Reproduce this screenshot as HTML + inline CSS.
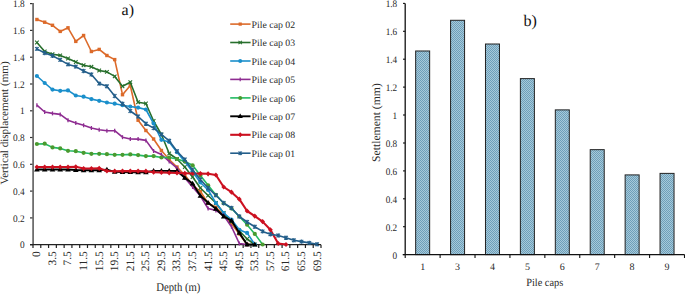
<!DOCTYPE html>
<html><head><meta charset="utf-8"><style>
html,body{margin:0;padding:0;background:#fff;}
body{width:685px;height:294px;overflow:hidden;}
svg{display:block;}
text{font-family:"Liberation Serif",serif;fill:#2a2a2a;text-rendering:geometricPrecision;}
.t{font-size:10px;}
.ti{font-size:10.8px;}
.ab{font-size:16px;}
</style></head><body>
<svg width="685" height="294" viewBox="0 0 685 294">
<path d="M30 244.7H33" stroke="#333" stroke-width="1.2"/>
<text transform="translate(24.60 248.40) scale(0.93 1.0)" text-anchor="end" style="font-size:10px">0</text>
<path d="M30 217.9H33" stroke="#333" stroke-width="1.2"/>
<text transform="translate(24.60 221.61) scale(0.93 1.0)" text-anchor="end" style="font-size:10px">0.2</text>
<path d="M30 191.1H33" stroke="#333" stroke-width="1.2"/>
<text transform="translate(24.60 194.82) scale(0.93 1.0)" text-anchor="end" style="font-size:10px">0.4</text>
<path d="M30 164.3H33" stroke="#333" stroke-width="1.2"/>
<text transform="translate(24.60 168.03) scale(0.93 1.0)" text-anchor="end" style="font-size:10px">0.6</text>
<path d="M30 137.5H33" stroke="#333" stroke-width="1.2"/>
<text transform="translate(24.60 141.24) scale(0.93 1.0)" text-anchor="end" style="font-size:10px">0.8</text>
<path d="M30 110.8H33" stroke="#333" stroke-width="1.2"/>
<text transform="translate(24.60 114.46) scale(0.93 1.0)" text-anchor="end" style="font-size:10px">1</text>
<path d="M30 84.0H33" stroke="#333" stroke-width="1.2"/>
<text transform="translate(24.60 87.67) scale(0.93 1.0)" text-anchor="end" style="font-size:10px">1.2</text>
<path d="M30 57.2H33" stroke="#333" stroke-width="1.2"/>
<text transform="translate(24.60 60.88) scale(0.93 1.0)" text-anchor="end" style="font-size:10px">1.4</text>
<path d="M30 30.4H33" stroke="#333" stroke-width="1.2"/>
<text transform="translate(24.60 34.09) scale(0.93 1.0)" text-anchor="end" style="font-size:10px">1.6</text>
<path d="M30 3.6H33" stroke="#333" stroke-width="1.2"/>
<text transform="translate(24.60 7.30) scale(0.93 1.0)" text-anchor="end" style="font-size:10px">1.8</text>
<path d="M33.00 244.7V248.1M40.78 244.7V248.1M48.57 244.7V248.1M56.35 244.7V248.1M64.14 244.7V248.1M71.92 244.7V248.1M79.70 244.7V248.1M87.49 244.7V248.1M95.27 244.7V248.1M103.05 244.7V248.1M110.84 244.7V248.1M118.62 244.7V248.1M126.41 244.7V248.1M134.19 244.7V248.1M141.97 244.7V248.1M149.76 244.7V248.1M157.54 244.7V248.1M165.32 244.7V248.1M173.11 244.7V248.1M180.89 244.7V248.1M188.68 244.7V248.1M196.46 244.7V248.1M204.24 244.7V248.1M212.03 244.7V248.1M219.81 244.7V248.1M227.59 244.7V248.1M235.38 244.7V248.1M243.16 244.7V248.1M250.95 244.7V248.1M258.73 244.7V248.1M266.51 244.7V248.1M274.30 244.7V248.1M282.08 244.7V248.1M289.86 244.7V248.1M297.65 244.7V248.1M305.43 244.7V248.1M313.22 244.7V248.1M321.00 244.7V248.1" stroke="#222" stroke-width="1.2"/>
<text transform="translate(40.3 251.3) rotate(-90)" text-anchor="end" class="t" style="font-size:11.4px">0</text>
<text transform="translate(55.9 251.3) rotate(-90)" text-anchor="end" class="t" style="font-size:11.4px">3.5</text>
<text transform="translate(71.4 251.3) rotate(-90)" text-anchor="end" class="t" style="font-size:11.4px">7.5</text>
<text transform="translate(87.0 251.3) rotate(-90)" text-anchor="end" class="t" style="font-size:11.4px">11.5</text>
<text transform="translate(102.6 251.3) rotate(-90)" text-anchor="end" class="t" style="font-size:11.4px">15.5</text>
<text transform="translate(118.1 251.3) rotate(-90)" text-anchor="end" class="t" style="font-size:11.4px">19.5</text>
<text transform="translate(133.7 251.3) rotate(-90)" text-anchor="end" class="t" style="font-size:11.4px">21.5</text>
<text transform="translate(149.3 251.3) rotate(-90)" text-anchor="end" class="t" style="font-size:11.4px">25.5</text>
<text transform="translate(164.8 251.3) rotate(-90)" text-anchor="end" class="t" style="font-size:11.4px">29.5</text>
<text transform="translate(180.4 251.3) rotate(-90)" text-anchor="end" class="t" style="font-size:11.4px">33.5</text>
<text transform="translate(196.0 251.3) rotate(-90)" text-anchor="end" class="t" style="font-size:11.4px">37.5</text>
<text transform="translate(211.5 251.3) rotate(-90)" text-anchor="end" class="t" style="font-size:11.4px">41.5</text>
<text transform="translate(227.1 251.3) rotate(-90)" text-anchor="end" class="t" style="font-size:11.4px">45.5</text>
<text transform="translate(242.7 251.3) rotate(-90)" text-anchor="end" class="t" style="font-size:11.4px">49.5</text>
<text transform="translate(258.2 251.3) rotate(-90)" text-anchor="end" class="t" style="font-size:11.4px">53.5</text>
<text transform="translate(273.8 251.3) rotate(-90)" text-anchor="end" class="t" style="font-size:11.4px">57.5</text>
<text transform="translate(289.4 251.3) rotate(-90)" text-anchor="end" class="t" style="font-size:11.4px">61.5</text>
<text transform="translate(304.9 251.3) rotate(-90)" text-anchor="end" class="t" style="font-size:11.4px">65.5</text>
<text transform="translate(320.5 251.3) rotate(-90)" text-anchor="end" class="t" style="font-size:11.4px">69.5</text>
<path d="M33.1 3.0V244.7" stroke="#6e6e6e" stroke-width="1.8"/>
<path d="M30 244.7H321.0" stroke="#222" stroke-width="1.2"/>
<path d="M36.9 19.5L44.7 22.2L52.5 25.3L60.2 31.4L68.0 27.8L75.8 41.4L83.6 35.5L91.4 51.5L99.2 49.4L106.9 55.5L114.7 59.6L122.5 94.7L130.3 85.5L138.1 120.2L145.9 130.5L153.6 139.0L161.4 150.5L169.2 159.5L177.0 167.0L184.8 175.0L192.6 185.0L200.4 191.5L208.1 203.3L215.9 207.3L223.7 214.5L231.5 223.7L239.3 233.9L247.1 244.5" stroke="#DC6A2A" stroke-width="1.6" fill="none" stroke-linejoin="round"/>
<rect x="35.2" y="17.8" width="3.4" height="3.4" fill="#DC6A2A"/><rect x="43.0" y="20.5" width="3.4" height="3.4" fill="#DC6A2A"/><rect x="50.8" y="23.6" width="3.4" height="3.4" fill="#DC6A2A"/><rect x="58.5" y="29.7" width="3.4" height="3.4" fill="#DC6A2A"/><rect x="66.3" y="26.1" width="3.4" height="3.4" fill="#DC6A2A"/><rect x="74.1" y="39.7" width="3.4" height="3.4" fill="#DC6A2A"/><rect x="81.9" y="33.8" width="3.4" height="3.4" fill="#DC6A2A"/><rect x="89.7" y="49.8" width="3.4" height="3.4" fill="#DC6A2A"/><rect x="97.5" y="47.7" width="3.4" height="3.4" fill="#DC6A2A"/><rect x="105.2" y="53.8" width="3.4" height="3.4" fill="#DC6A2A"/><rect x="113.0" y="57.9" width="3.4" height="3.4" fill="#DC6A2A"/><rect x="120.8" y="93.0" width="3.4" height="3.4" fill="#DC6A2A"/><rect x="128.6" y="83.8" width="3.4" height="3.4" fill="#DC6A2A"/><rect x="136.4" y="118.5" width="3.4" height="3.4" fill="#DC6A2A"/><rect x="144.2" y="128.8" width="3.4" height="3.4" fill="#DC6A2A"/><rect x="151.9" y="137.3" width="3.4" height="3.4" fill="#DC6A2A"/><rect x="159.7" y="148.8" width="3.4" height="3.4" fill="#DC6A2A"/><rect x="167.5" y="157.8" width="3.4" height="3.4" fill="#DC6A2A"/><rect x="175.3" y="165.3" width="3.4" height="3.4" fill="#DC6A2A"/><rect x="183.1" y="173.3" width="3.4" height="3.4" fill="#DC6A2A"/><rect x="190.9" y="183.3" width="3.4" height="3.4" fill="#DC6A2A"/><rect x="198.7" y="189.8" width="3.4" height="3.4" fill="#DC6A2A"/><rect x="206.4" y="201.6" width="3.4" height="3.4" fill="#DC6A2A"/><rect x="214.2" y="205.6" width="3.4" height="3.4" fill="#DC6A2A"/><rect x="222.0" y="212.8" width="3.4" height="3.4" fill="#DC6A2A"/><rect x="229.8" y="222.0" width="3.4" height="3.4" fill="#DC6A2A"/><rect x="237.6" y="232.2" width="3.4" height="3.4" fill="#DC6A2A"/><rect x="245.4" y="242.8" width="3.4" height="3.4" fill="#DC6A2A"/>
<path d="M36.9 42.5L44.7 51.5L52.5 54.2L60.2 55.4L68.0 58.5L75.8 62.0L83.6 65.2L91.4 66.8L99.2 70.5L106.9 71.9L114.7 76.4L122.5 86.3L130.3 82.2L138.1 102.2L145.9 103.5L153.6 121.0L161.4 134.5L169.2 153.5L177.0 159.0L184.8 167.0L192.6 177.0L200.4 188.0L208.1 195.5L215.9 203.0L223.7 213.0L231.5 221.6L239.3 230.8L247.1 239.0L254.8 244.5" stroke="#276F2C" stroke-width="1.6" fill="none" stroke-linejoin="round"/>
<path d="M35.1 40.7L38.7 44.3M35.1 44.3L38.7 40.7" stroke="#276F2C" stroke-width="1.1" fill="none"/><path d="M42.9 49.7L46.5 53.3M42.9 53.3L46.5 49.7" stroke="#276F2C" stroke-width="1.1" fill="none"/><path d="M50.7 52.4L54.3 56.0M50.7 56.0L54.3 52.4" stroke="#276F2C" stroke-width="1.1" fill="none"/><path d="M58.4 53.6L62.0 57.2M58.4 57.2L62.0 53.6" stroke="#276F2C" stroke-width="1.1" fill="none"/><path d="M66.2 56.7L69.8 60.3M66.2 60.3L69.8 56.7" stroke="#276F2C" stroke-width="1.1" fill="none"/><path d="M74.0 60.2L77.6 63.8M74.0 63.8L77.6 60.2" stroke="#276F2C" stroke-width="1.1" fill="none"/><path d="M81.8 63.4L85.4 67.0M81.8 67.0L85.4 63.4" stroke="#276F2C" stroke-width="1.1" fill="none"/><path d="M89.6 65.0L93.2 68.6M89.6 68.6L93.2 65.0" stroke="#276F2C" stroke-width="1.1" fill="none"/><path d="M97.4 68.7L101.0 72.3M97.4 72.3L101.0 68.7" stroke="#276F2C" stroke-width="1.1" fill="none"/><path d="M105.1 70.1L108.7 73.7M105.1 73.7L108.7 70.1" stroke="#276F2C" stroke-width="1.1" fill="none"/><path d="M112.9 74.6L116.5 78.2M112.9 78.2L116.5 74.6" stroke="#276F2C" stroke-width="1.1" fill="none"/><path d="M120.7 84.5L124.3 88.1M120.7 88.1L124.3 84.5" stroke="#276F2C" stroke-width="1.1" fill="none"/><path d="M128.5 80.4L132.1 84.0M128.5 84.0L132.1 80.4" stroke="#276F2C" stroke-width="1.1" fill="none"/><path d="M136.3 100.4L139.9 104.0M136.3 104.0L139.9 100.4" stroke="#276F2C" stroke-width="1.1" fill="none"/><path d="M144.1 101.7L147.7 105.3M144.1 105.3L147.7 101.7" stroke="#276F2C" stroke-width="1.1" fill="none"/><path d="M151.8 119.2L155.4 122.8M151.8 122.8L155.4 119.2" stroke="#276F2C" stroke-width="1.1" fill="none"/><path d="M159.6 132.7L163.2 136.3M159.6 136.3L163.2 132.7" stroke="#276F2C" stroke-width="1.1" fill="none"/><path d="M167.4 151.7L171.0 155.3M167.4 155.3L171.0 151.7" stroke="#276F2C" stroke-width="1.1" fill="none"/><path d="M175.2 157.2L178.8 160.8M175.2 160.8L178.8 157.2" stroke="#276F2C" stroke-width="1.1" fill="none"/><path d="M183.0 165.2L186.6 168.8M183.0 168.8L186.6 165.2" stroke="#276F2C" stroke-width="1.1" fill="none"/><path d="M190.8 175.2L194.4 178.8M190.8 178.8L194.4 175.2" stroke="#276F2C" stroke-width="1.1" fill="none"/><path d="M198.6 186.2L202.2 189.8M198.6 189.8L202.2 186.2" stroke="#276F2C" stroke-width="1.1" fill="none"/><path d="M206.3 193.7L209.9 197.3M206.3 197.3L209.9 193.7" stroke="#276F2C" stroke-width="1.1" fill="none"/><path d="M214.1 201.2L217.7 204.8M214.1 204.8L217.7 201.2" stroke="#276F2C" stroke-width="1.1" fill="none"/><path d="M221.9 211.2L225.5 214.8M221.9 214.8L225.5 211.2" stroke="#276F2C" stroke-width="1.1" fill="none"/><path d="M229.7 219.8L233.3 223.4M229.7 223.4L233.3 219.8" stroke="#276F2C" stroke-width="1.1" fill="none"/><path d="M237.5 229.0L241.1 232.6M237.5 232.6L241.1 229.0" stroke="#276F2C" stroke-width="1.1" fill="none"/><path d="M245.3 237.2L248.9 240.8M245.3 240.8L248.9 237.2" stroke="#276F2C" stroke-width="1.1" fill="none"/><path d="M253.0 242.7L256.6 246.3M253.0 246.3L256.6 242.7" stroke="#276F2C" stroke-width="1.1" fill="none"/>
<path d="M36.9 76.0L44.7 83.0L52.5 89.6L60.2 90.8L68.0 90.4L75.8 95.5L83.6 96.7L91.4 99.1L99.2 100.8L106.9 102.5L114.7 103.7L122.5 105.2L130.3 106.5L138.1 107.6L145.9 109.5L153.6 123.5L161.4 139.8L169.2 142.0L177.0 152.2L184.8 161.6L192.6 171.8L200.4 182.5L208.1 190.0L215.9 203.0L223.7 213.0L231.5 219.5L239.3 229.8L247.1 232.9L254.8 244.5" stroke="#1A8FCB" stroke-width="1.6" fill="none" stroke-linejoin="round"/>
<circle cx="36.9" cy="76.0" r="2.1" fill="#1A8FCB"/><circle cx="44.7" cy="83.0" r="2.1" fill="#1A8FCB"/><circle cx="52.5" cy="89.6" r="2.1" fill="#1A8FCB"/><circle cx="60.2" cy="90.8" r="2.1" fill="#1A8FCB"/><circle cx="68.0" cy="90.4" r="2.1" fill="#1A8FCB"/><circle cx="75.8" cy="95.5" r="2.1" fill="#1A8FCB"/><circle cx="83.6" cy="96.7" r="2.1" fill="#1A8FCB"/><circle cx="91.4" cy="99.1" r="2.1" fill="#1A8FCB"/><circle cx="99.2" cy="100.8" r="2.1" fill="#1A8FCB"/><circle cx="106.9" cy="102.5" r="2.1" fill="#1A8FCB"/><circle cx="114.7" cy="103.7" r="2.1" fill="#1A8FCB"/><circle cx="122.5" cy="105.2" r="2.1" fill="#1A8FCB"/><circle cx="130.3" cy="106.5" r="2.1" fill="#1A8FCB"/><circle cx="138.1" cy="107.6" r="2.1" fill="#1A8FCB"/><circle cx="145.9" cy="109.5" r="2.1" fill="#1A8FCB"/><circle cx="153.6" cy="123.5" r="2.1" fill="#1A8FCB"/><circle cx="161.4" cy="139.8" r="2.1" fill="#1A8FCB"/><circle cx="169.2" cy="142.0" r="2.1" fill="#1A8FCB"/><circle cx="177.0" cy="152.2" r="2.1" fill="#1A8FCB"/><circle cx="184.8" cy="161.6" r="2.1" fill="#1A8FCB"/><circle cx="192.6" cy="171.8" r="2.1" fill="#1A8FCB"/><circle cx="200.4" cy="182.5" r="2.1" fill="#1A8FCB"/><circle cx="208.1" cy="190.0" r="2.1" fill="#1A8FCB"/><circle cx="215.9" cy="203.0" r="2.1" fill="#1A8FCB"/><circle cx="223.7" cy="213.0" r="2.1" fill="#1A8FCB"/><circle cx="231.5" cy="219.5" r="2.1" fill="#1A8FCB"/><circle cx="239.3" cy="229.8" r="2.1" fill="#1A8FCB"/><circle cx="247.1" cy="232.9" r="2.1" fill="#1A8FCB"/><circle cx="254.8" cy="244.5" r="2.1" fill="#1A8FCB"/>
<path d="M36.9 105.2L44.7 112.0L52.5 113.4L60.2 114.4L68.0 120.2L75.8 122.9L83.6 125.3L91.4 128.0L99.2 129.7L106.9 130.7L114.7 130.7L122.5 137.2L130.3 139.0L138.1 139.1L145.9 140.4L153.6 151.0L161.4 154.6L169.2 161.4L177.0 168.2L184.8 178.0L192.6 187.0L200.4 196.0L208.1 208.5L215.9 210.4L223.7 215.5L231.5 226.7L239.3 243.5L247.1 244.5" stroke="#8E2C91" stroke-width="1.6" fill="none" stroke-linejoin="round"/>
<path d="M36.9 103.2V107.2" stroke="#8E2C91" stroke-width="1.3" fill="none"/><path d="M44.7 110.0V114.0" stroke="#8E2C91" stroke-width="1.3" fill="none"/><path d="M52.5 111.4V115.4" stroke="#8E2C91" stroke-width="1.3" fill="none"/><path d="M60.2 112.4V116.4" stroke="#8E2C91" stroke-width="1.3" fill="none"/><path d="M68.0 118.2V122.2" stroke="#8E2C91" stroke-width="1.3" fill="none"/><path d="M75.8 120.9V124.9" stroke="#8E2C91" stroke-width="1.3" fill="none"/><path d="M83.6 123.3V127.3" stroke="#8E2C91" stroke-width="1.3" fill="none"/><path d="M91.4 126.0V130.0" stroke="#8E2C91" stroke-width="1.3" fill="none"/><path d="M99.2 127.7V131.7" stroke="#8E2C91" stroke-width="1.3" fill="none"/><path d="M106.9 128.7V132.7" stroke="#8E2C91" stroke-width="1.3" fill="none"/><path d="M114.7 128.7V132.7" stroke="#8E2C91" stroke-width="1.3" fill="none"/><path d="M122.5 135.2V139.2" stroke="#8E2C91" stroke-width="1.3" fill="none"/><path d="M130.3 137.0V141.0" stroke="#8E2C91" stroke-width="1.3" fill="none"/><path d="M138.1 137.1V141.1" stroke="#8E2C91" stroke-width="1.3" fill="none"/><path d="M145.9 138.4V142.4" stroke="#8E2C91" stroke-width="1.3" fill="none"/><path d="M153.6 149.0V153.0" stroke="#8E2C91" stroke-width="1.3" fill="none"/><path d="M161.4 152.6V156.6" stroke="#8E2C91" stroke-width="1.3" fill="none"/><path d="M169.2 159.4V163.4" stroke="#8E2C91" stroke-width="1.3" fill="none"/><path d="M177.0 166.2V170.2" stroke="#8E2C91" stroke-width="1.3" fill="none"/><path d="M184.8 176.0V180.0" stroke="#8E2C91" stroke-width="1.3" fill="none"/><path d="M192.6 185.0V189.0" stroke="#8E2C91" stroke-width="1.3" fill="none"/><path d="M200.4 194.0V198.0" stroke="#8E2C91" stroke-width="1.3" fill="none"/><path d="M208.1 206.5V210.5" stroke="#8E2C91" stroke-width="1.3" fill="none"/><path d="M215.9 208.4V212.4" stroke="#8E2C91" stroke-width="1.3" fill="none"/><path d="M223.7 213.5V217.5" stroke="#8E2C91" stroke-width="1.3" fill="none"/><path d="M231.5 224.7V228.7" stroke="#8E2C91" stroke-width="1.3" fill="none"/><path d="M239.3 241.5V245.5" stroke="#8E2C91" stroke-width="1.3" fill="none"/><path d="M247.1 242.5V246.5" stroke="#8E2C91" stroke-width="1.3" fill="none"/>
<path d="M36.9 144.0L44.7 143.7L52.5 147.4L60.2 148.4L68.0 150.8L75.8 151.2L83.6 152.8L91.4 153.8L99.2 153.8L106.9 154.2L114.7 154.8L122.5 154.8L130.3 154.4L138.1 155.1L145.9 156.1L153.6 156.1L161.4 157.5L169.2 157.5L177.0 159.0L184.8 161.4L192.6 165.3L200.4 175.5L208.1 185.3L215.9 194.9L223.7 203.3L231.5 208.4L239.3 216.5L247.1 224.7L254.8 233.9L262.6 244.5" stroke="#22BA62" stroke-width="1.6" fill="none" stroke-linejoin="round"/>
<circle cx="36.9" cy="144.0" r="2.1" fill="#4A9A2E"/><circle cx="44.7" cy="143.7" r="2.1" fill="#4A9A2E"/><circle cx="52.5" cy="147.4" r="2.1" fill="#4A9A2E"/><circle cx="60.2" cy="148.4" r="2.1" fill="#4A9A2E"/><circle cx="68.0" cy="150.8" r="2.1" fill="#4A9A2E"/><circle cx="75.8" cy="151.2" r="2.1" fill="#4A9A2E"/><circle cx="83.6" cy="152.8" r="2.1" fill="#4A9A2E"/><circle cx="91.4" cy="153.8" r="2.1" fill="#4A9A2E"/><circle cx="99.2" cy="153.8" r="2.1" fill="#4A9A2E"/><circle cx="106.9" cy="154.2" r="2.1" fill="#4A9A2E"/><circle cx="114.7" cy="154.8" r="2.1" fill="#4A9A2E"/><circle cx="122.5" cy="154.8" r="2.1" fill="#4A9A2E"/><circle cx="130.3" cy="154.4" r="2.1" fill="#4A9A2E"/><circle cx="138.1" cy="155.1" r="2.1" fill="#4A9A2E"/><circle cx="145.9" cy="156.1" r="2.1" fill="#4A9A2E"/><circle cx="153.6" cy="156.1" r="2.1" fill="#4A9A2E"/><circle cx="161.4" cy="157.5" r="2.1" fill="#4A9A2E"/><circle cx="169.2" cy="157.5" r="2.1" fill="#4A9A2E"/><circle cx="177.0" cy="159.0" r="2.1" fill="#4A9A2E"/><circle cx="184.8" cy="161.4" r="2.1" fill="#4A9A2E"/><circle cx="192.6" cy="165.3" r="2.1" fill="#4A9A2E"/><circle cx="200.4" cy="175.5" r="2.1" fill="#4A9A2E"/><circle cx="208.1" cy="185.3" r="2.1" fill="#4A9A2E"/><circle cx="215.9" cy="194.9" r="2.1" fill="#4A9A2E"/><circle cx="223.7" cy="203.3" r="2.1" fill="#4A9A2E"/><circle cx="231.5" cy="208.4" r="2.1" fill="#4A9A2E"/><circle cx="239.3" cy="216.5" r="2.1" fill="#4A9A2E"/><circle cx="247.1" cy="224.7" r="2.1" fill="#4A9A2E"/><circle cx="254.8" cy="233.9" r="2.1" fill="#4A9A2E"/><circle cx="262.6" cy="244.5" r="2.1" fill="#4A9A2E"/>
<path d="M36.9 169.5L44.7 169.5L52.5 169.5L60.2 169.5L68.0 169.5L75.8 170.0L83.6 170.3L91.4 170.3L99.2 170.3L106.9 169.6L114.7 171.9L122.5 172.1L130.3 172.2L138.1 172.3L145.9 172.3L153.6 170.9L161.4 170.9L169.2 170.9L177.0 171.0L184.8 177.8L192.6 183.6L200.4 195.8L208.1 202.8L215.9 208.8L223.7 216.5L231.5 220.6L239.3 232.9L247.1 244.5L254.8 244.5" stroke="#000000" stroke-width="1.9" fill="none" stroke-linejoin="round"/>
<path d="M36.9 166.6L39.7 171.4L34.1 171.4Z" fill="#000000"/><path d="M44.7 166.6L47.5 171.4L41.9 171.4Z" fill="#000000"/><path d="M52.5 166.6L55.3 171.4L49.7 171.4Z" fill="#000000"/><path d="M60.2 166.6L63.0 171.4L57.4 171.4Z" fill="#000000"/><path d="M68.0 166.6L70.8 171.4L65.2 171.4Z" fill="#000000"/><path d="M75.8 167.1L78.6 171.9L73.0 171.9Z" fill="#000000"/><path d="M83.6 167.4L86.4 172.2L80.8 172.2Z" fill="#000000"/><path d="M91.4 167.4L94.2 172.2L88.6 172.2Z" fill="#000000"/><path d="M99.2 167.4L102.0 172.2L96.4 172.2Z" fill="#000000"/><path d="M106.9 166.7L109.7 171.5L104.1 171.5Z" fill="#000000"/><path d="M114.7 169.0L117.5 173.8L111.9 173.8Z" fill="#000000"/><path d="M122.5 169.2L125.3 174.0L119.7 174.0Z" fill="#000000"/><path d="M130.3 169.3L133.1 174.1L127.5 174.1Z" fill="#000000"/><path d="M138.1 169.4L140.9 174.2L135.3 174.2Z" fill="#000000"/><path d="M145.9 169.4L148.7 174.2L143.1 174.2Z" fill="#000000"/><path d="M153.6 168.0L156.4 172.8L150.8 172.8Z" fill="#000000"/><path d="M161.4 168.0L164.2 172.8L158.6 172.8Z" fill="#000000"/><path d="M169.2 168.0L172.0 172.8L166.4 172.8Z" fill="#000000"/><path d="M177.0 168.1L179.8 172.9L174.2 172.9Z" fill="#000000"/><path d="M184.8 174.9L187.6 179.7L182.0 179.7Z" fill="#000000"/><path d="M192.6 180.7L195.4 185.5L189.8 185.5Z" fill="#000000"/><path d="M200.4 192.9L203.2 197.7L197.6 197.7Z" fill="#000000"/><path d="M208.1 199.9L210.9 204.7L205.3 204.7Z" fill="#000000"/><path d="M215.9 205.9L218.7 210.7L213.1 210.7Z" fill="#000000"/><path d="M223.7 213.6L226.5 218.4L220.9 218.4Z" fill="#000000"/><path d="M231.5 217.7L234.3 222.5L228.7 222.5Z" fill="#000000"/><path d="M239.3 230.0L242.1 234.8L236.5 234.8Z" fill="#000000"/><path d="M247.1 241.6L249.9 246.4L244.3 246.4Z" fill="#000000"/><path d="M254.8 241.6L257.6 246.4L252.0 246.4Z" fill="#000000"/>
<path d="M36.9 167.0L44.7 167.0L52.5 167.0L60.2 167.0L68.0 167.0L75.8 166.8L83.6 168.5L91.4 168.5L99.2 168.3L106.9 171.0L114.7 171.2L122.5 171.1L130.3 171.1L138.1 171.1L145.9 171.2L153.6 172.2L161.4 172.5L169.2 172.8L177.0 173.0L184.8 173.3L192.6 173.5L200.4 173.6L208.1 173.8L215.9 175.0L223.7 187.0L231.5 192.2L239.3 199.2L247.1 211.0L254.8 216.1L262.6 221.6L270.4 229.8L278.2 243.5L286.0 244.5" stroke="#CC1020" stroke-width="2.1" fill="none" stroke-linejoin="round"/>
<path d="M36.9 164.4L39.3 167.0L36.9 169.6L34.5 167.0Z" fill="#CC1020"/><path d="M44.7 164.4L47.1 167.0L44.7 169.6L42.3 167.0Z" fill="#CC1020"/><path d="M52.5 164.4L54.9 167.0L52.5 169.6L50.1 167.0Z" fill="#CC1020"/><path d="M60.2 164.4L62.6 167.0L60.2 169.6L57.8 167.0Z" fill="#CC1020"/><path d="M68.0 164.4L70.4 167.0L68.0 169.6L65.6 167.0Z" fill="#CC1020"/><path d="M75.8 164.2L78.2 166.8L75.8 169.4L73.4 166.8Z" fill="#CC1020"/><path d="M83.6 165.9L86.0 168.5L83.6 171.1L81.2 168.5Z" fill="#CC1020"/><path d="M91.4 165.9L93.8 168.5L91.4 171.1L89.0 168.5Z" fill="#CC1020"/><path d="M99.2 165.7L101.6 168.3L99.2 170.9L96.8 168.3Z" fill="#CC1020"/><path d="M106.9 168.4L109.3 171.0L106.9 173.6L104.5 171.0Z" fill="#CC1020"/><path d="M114.7 168.6L117.1 171.2L114.7 173.8L112.3 171.2Z" fill="#CC1020"/><path d="M122.5 168.5L124.9 171.1L122.5 173.7L120.1 171.1Z" fill="#CC1020"/><path d="M130.3 168.5L132.7 171.1L130.3 173.7L127.9 171.1Z" fill="#CC1020"/><path d="M138.1 168.5L140.5 171.1L138.1 173.7L135.7 171.1Z" fill="#CC1020"/><path d="M145.9 168.6L148.3 171.2L145.9 173.8L143.5 171.2Z" fill="#CC1020"/><path d="M153.6 169.6L156.0 172.2L153.6 174.8L151.2 172.2Z" fill="#CC1020"/><path d="M161.4 169.9L163.8 172.5L161.4 175.1L159.0 172.5Z" fill="#CC1020"/><path d="M169.2 170.2L171.6 172.8L169.2 175.4L166.8 172.8Z" fill="#CC1020"/><path d="M177.0 170.4L179.4 173.0L177.0 175.6L174.6 173.0Z" fill="#CC1020"/><path d="M184.8 170.7L187.2 173.3L184.8 175.9L182.4 173.3Z" fill="#CC1020"/><path d="M192.6 170.9L195.0 173.5L192.6 176.1L190.2 173.5Z" fill="#CC1020"/><path d="M200.4 171.0L202.8 173.6L200.4 176.2L198.0 173.6Z" fill="#CC1020"/><path d="M208.1 171.2L210.5 173.8L208.1 176.4L205.7 173.8Z" fill="#CC1020"/><path d="M215.9 172.4L218.3 175.0L215.9 177.6L213.5 175.0Z" fill="#CC1020"/><path d="M223.7 184.4L226.1 187.0L223.7 189.6L221.3 187.0Z" fill="#CC1020"/><path d="M231.5 189.6L233.9 192.2L231.5 194.8L229.1 192.2Z" fill="#CC1020"/><path d="M239.3 196.6L241.7 199.2L239.3 201.8L236.9 199.2Z" fill="#CC1020"/><path d="M247.1 208.4L249.5 211.0L247.1 213.6L244.7 211.0Z" fill="#CC1020"/><path d="M254.8 213.5L257.2 216.1L254.8 218.7L252.4 216.1Z" fill="#CC1020"/><path d="M262.6 219.0L265.0 221.6L262.6 224.2L260.2 221.6Z" fill="#CC1020"/><path d="M270.4 227.2L272.8 229.8L270.4 232.4L268.0 229.8Z" fill="#CC1020"/><path d="M278.2 240.9L280.6 243.5L278.2 246.1L275.8 243.5Z" fill="#CC1020"/><path d="M286.0 241.9L288.4 244.5L286.0 247.1L283.6 244.5Z" fill="#CC1020"/>
<path d="M36.9 48.9L44.7 53.0L52.5 55.8L60.2 59.9L68.0 64.4L75.8 66.6L83.6 71.0L91.4 74.5L99.2 83.6L106.9 86.3L114.7 96.0L122.5 103.7L130.3 111.0L138.1 116.5L145.9 123.7L153.6 128.1L161.4 134.4L169.2 140.8L177.0 151.2L184.8 159.5L192.6 170.0L200.4 179.5L208.1 188.0L215.9 195.3L223.7 203.0L231.5 208.0L239.3 216.5L247.1 222.0L254.8 226.8L262.6 231.4L270.4 234.2L278.2 235.5L286.0 237.7L293.8 240.3L301.5 241.6L309.3 242.9L317.1 244.3" stroke="#235E8A" stroke-width="1.6" fill="none" stroke-linejoin="round"/>
<path d="M35.1 47.1L38.7 50.7M35.1 50.7L38.7 47.1M36.9 46.7V51.1" stroke="#235E8A" stroke-width="1.1" fill="none"/><path d="M42.9 51.2L46.5 54.8M42.9 54.8L46.5 51.2M44.7 50.8V55.2" stroke="#235E8A" stroke-width="1.1" fill="none"/><path d="M50.7 54.0L54.3 57.6M50.7 57.6L54.3 54.0M52.5 53.6V58.0" stroke="#235E8A" stroke-width="1.1" fill="none"/><path d="M58.4 58.1L62.0 61.7M58.4 61.7L62.0 58.1M60.2 57.7V62.1" stroke="#235E8A" stroke-width="1.1" fill="none"/><path d="M66.2 62.6L69.8 66.2M66.2 66.2L69.8 62.6M68.0 62.2V66.6" stroke="#235E8A" stroke-width="1.1" fill="none"/><path d="M74.0 64.8L77.6 68.4M74.0 68.4L77.6 64.8M75.8 64.4V68.8" stroke="#235E8A" stroke-width="1.1" fill="none"/><path d="M81.8 69.2L85.4 72.8M81.8 72.8L85.4 69.2M83.6 68.8V73.2" stroke="#235E8A" stroke-width="1.1" fill="none"/><path d="M89.6 72.7L93.2 76.3M89.6 76.3L93.2 72.7M91.4 72.3V76.7" stroke="#235E8A" stroke-width="1.1" fill="none"/><path d="M97.4 81.8L101.0 85.4M97.4 85.4L101.0 81.8M99.2 81.4V85.8" stroke="#235E8A" stroke-width="1.1" fill="none"/><path d="M105.1 84.5L108.7 88.1M105.1 88.1L108.7 84.5M106.9 84.1V88.5" stroke="#235E8A" stroke-width="1.1" fill="none"/><path d="M112.9 94.2L116.5 97.8M112.9 97.8L116.5 94.2M114.7 93.8V98.2" stroke="#235E8A" stroke-width="1.1" fill="none"/><path d="M120.7 101.9L124.3 105.5M120.7 105.5L124.3 101.9M122.5 101.5V105.9" stroke="#235E8A" stroke-width="1.1" fill="none"/><path d="M128.5 109.2L132.1 112.8M128.5 112.8L132.1 109.2M130.3 108.8V113.2" stroke="#235E8A" stroke-width="1.1" fill="none"/><path d="M136.3 114.7L139.9 118.3M136.3 118.3L139.9 114.7M138.1 114.3V118.7" stroke="#235E8A" stroke-width="1.1" fill="none"/><path d="M144.1 121.9L147.7 125.5M144.1 125.5L147.7 121.9M145.9 121.5V125.9" stroke="#235E8A" stroke-width="1.1" fill="none"/><path d="M151.8 126.3L155.4 129.9M151.8 129.9L155.4 126.3M153.6 125.9V130.3" stroke="#235E8A" stroke-width="1.1" fill="none"/><path d="M159.6 132.6L163.2 136.2M159.6 136.2L163.2 132.6M161.4 132.2V136.6" stroke="#235E8A" stroke-width="1.1" fill="none"/><path d="M167.4 139.0L171.0 142.6M167.4 142.6L171.0 139.0M169.2 138.6V143.0" stroke="#235E8A" stroke-width="1.1" fill="none"/><path d="M175.2 149.4L178.8 153.0M175.2 153.0L178.8 149.4M177.0 149.0V153.4" stroke="#235E8A" stroke-width="1.1" fill="none"/><path d="M183.0 157.7L186.6 161.3M183.0 161.3L186.6 157.7M184.8 157.3V161.7" stroke="#235E8A" stroke-width="1.1" fill="none"/><path d="M190.8 168.2L194.4 171.8M190.8 171.8L194.4 168.2M192.6 167.8V172.2" stroke="#235E8A" stroke-width="1.1" fill="none"/><path d="M198.6 177.7L202.2 181.3M198.6 181.3L202.2 177.7M200.4 177.3V181.7" stroke="#235E8A" stroke-width="1.1" fill="none"/><path d="M206.3 186.2L209.9 189.8M206.3 189.8L209.9 186.2M208.1 185.8V190.2" stroke="#235E8A" stroke-width="1.1" fill="none"/><path d="M214.1 193.5L217.7 197.1M214.1 197.1L217.7 193.5M215.9 193.1V197.5" stroke="#235E8A" stroke-width="1.1" fill="none"/><path d="M221.9 201.2L225.5 204.8M221.9 204.8L225.5 201.2M223.7 200.8V205.2" stroke="#235E8A" stroke-width="1.1" fill="none"/><path d="M229.7 206.2L233.3 209.8M229.7 209.8L233.3 206.2M231.5 205.8V210.2" stroke="#235E8A" stroke-width="1.1" fill="none"/><path d="M237.5 214.7L241.1 218.3M237.5 218.3L241.1 214.7M239.3 214.3V218.7" stroke="#235E8A" stroke-width="1.1" fill="none"/><path d="M245.3 220.2L248.9 223.8M245.3 223.8L248.9 220.2M247.1 219.8V224.2" stroke="#235E8A" stroke-width="1.1" fill="none"/><path d="M253.0 225.0L256.6 228.6M253.0 228.6L256.6 225.0M254.8 224.6V229.0" stroke="#235E8A" stroke-width="1.1" fill="none"/><path d="M260.8 229.6L264.4 233.2M260.8 233.2L264.4 229.6M262.6 229.2V233.6" stroke="#235E8A" stroke-width="1.1" fill="none"/><path d="M268.6 232.4L272.2 236.0M268.6 236.0L272.2 232.4M270.4 232.0V236.4" stroke="#235E8A" stroke-width="1.1" fill="none"/><path d="M276.4 233.7L280.0 237.3M276.4 237.3L280.0 233.7M278.2 233.3V237.7" stroke="#235E8A" stroke-width="1.1" fill="none"/><path d="M284.2 235.9L287.8 239.5M284.2 239.5L287.8 235.9M286.0 235.5V239.9" stroke="#235E8A" stroke-width="1.1" fill="none"/><path d="M292.0 238.5L295.6 242.1M292.0 242.1L295.6 238.5M293.8 238.1V242.5" stroke="#235E8A" stroke-width="1.1" fill="none"/><path d="M299.7 239.8L303.3 243.4M299.7 243.4L303.3 239.8M301.5 239.4V243.8" stroke="#235E8A" stroke-width="1.1" fill="none"/><path d="M307.5 241.1L311.1 244.7M307.5 244.7L311.1 241.1M309.3 240.7V245.1" stroke="#235E8A" stroke-width="1.1" fill="none"/><path d="M315.3 242.5L318.9 246.1M315.3 246.1L318.9 242.5M317.1 242.1V246.5" stroke="#235E8A" stroke-width="1.1" fill="none"/>
<path d="M230.2 24.1H250.6" stroke="#DC6A2A" stroke-width="1.6"/>
<g transform="translate(240.2 24.1) scale(0.95) translate(-240.2 -24.1)"><rect x="238.5" y="22.4" width="3.4" height="3.4" fill="#DC6A2A"/></g>
<text x="251.6" y="27.7" class="t" style="font-size:9.8px">Pile cap 02</text>
<path d="M230.2 42.5H250.6" stroke="#276F2C" stroke-width="1.6"/>
<g transform="translate(240.2 42.5) scale(0.95) translate(-240.2 -42.5)"><path d="M238.4 40.8L242.0 44.3M238.4 44.3L242.0 40.8" stroke="#276F2C" stroke-width="1.1" fill="none"/></g>
<text x="251.6" y="46.1" class="t" style="font-size:9.8px">Pile cap 03</text>
<path d="M230.2 61.0H250.6" stroke="#1A8FCB" stroke-width="1.6"/>
<g transform="translate(240.2 61.0) scale(0.95) translate(-240.2 -61.0)"><circle cx="240.2" cy="61.0" r="2.1" fill="#1A8FCB"/></g>
<text x="251.6" y="64.6" class="t" style="font-size:9.8px">Pile cap 04</text>
<path d="M230.2 79.4H250.6" stroke="#8E2C91" stroke-width="1.6"/>
<g transform="translate(240.2 79.4) scale(0.95) translate(-240.2 -79.4)"><path d="M240.2 77.4V81.4" stroke="#8E2C91" stroke-width="1.3" fill="none"/></g>
<text x="251.6" y="83.0" class="t" style="font-size:9.8px">Pile cap 05</text>
<path d="M230.2 97.9H250.6" stroke="#22BA62" stroke-width="1.6"/>
<g transform="translate(240.2 97.9) scale(0.95) translate(-240.2 -97.9)"><circle cx="240.2" cy="97.9" r="2.1" fill="#4A9A2E"/></g>
<text x="251.6" y="101.5" class="t" style="font-size:9.8px">Pile cap 06</text>
<path d="M230.2 116.3H250.6" stroke="#000000" stroke-width="1.9"/>
<g transform="translate(240.2 116.3) scale(0.95) translate(-240.2 -116.3)"><path d="M240.2 113.4L243.0 118.2L237.4 118.2Z" fill="#000000"/></g>
<text x="251.6" y="119.9" class="t" style="font-size:9.8px">Pile cap 07</text>
<path d="M230.2 134.8H250.6" stroke="#CC1020" stroke-width="2.1"/>
<g transform="translate(240.2 134.8) scale(0.95) translate(-240.2 -134.8)"><path d="M240.2 132.2L242.6 134.8L240.2 137.4L237.8 134.8Z" fill="#CC1020"/></g>
<text x="251.6" y="138.4" class="t" style="font-size:9.8px">Pile cap 08</text>
<path d="M230.2 153.2H250.6" stroke="#235E8A" stroke-width="1.6"/>
<g transform="translate(240.2 153.2) scale(0.95) translate(-240.2 -153.2)"><path d="M238.4 151.4L242.0 155.1M238.4 155.1L242.0 151.4M240.2 151.1V155.4" stroke="#235E8A" stroke-width="1.1" fill="none"/></g>
<text x="251.6" y="156.8" class="t" style="font-size:9.8px">Pile cap 01</text>
<text transform="translate(8.00 123.00) rotate(-90)" text-anchor="middle" style="font-size:11.1px">Vertical displacement (mm)</text>
<text transform="translate(178.30 291.40) scale(0.89 1.0)" text-anchor="middle" style="font-size:12px">Depth (m)</text>
<text transform="translate(121.60 14.80)" style="font-size:16px;fill:#111">a)</text>
<defs><pattern id="hp" width="2" height="2" patternUnits="userSpaceOnUse"><rect width="2" height="2" fill="#a6c9da"/><rect width="1" height="1" fill="#6e9fb9"/><rect x="1" y="1" width="1" height="1" fill="#6e9fb9"/></pattern></defs>
<path d="M403 254.6H405.2" stroke="#111" stroke-width="1.1"/>
<text transform="translate(397.20 258.50) scale(0.92 1.0)" text-anchor="end" style="font-size:10px">0</text>
<path d="M403 226.7H405.2" stroke="#111" stroke-width="1.1"/>
<text transform="translate(397.20 230.59) scale(0.92 1.0)" text-anchor="end" style="font-size:10px">0.2</text>
<path d="M403 198.8H405.2" stroke="#111" stroke-width="1.1"/>
<text transform="translate(397.20 202.68) scale(0.92 1.0)" text-anchor="end" style="font-size:10px">0.4</text>
<path d="M403 170.9H405.2" stroke="#111" stroke-width="1.1"/>
<text transform="translate(397.20 174.77) scale(0.92 1.0)" text-anchor="end" style="font-size:10px">0.6</text>
<path d="M403 143.0H405.2" stroke="#111" stroke-width="1.1"/>
<text transform="translate(397.20 146.86) scale(0.92 1.0)" text-anchor="end" style="font-size:10px">0.8</text>
<path d="M403 115.0H405.2" stroke="#111" stroke-width="1.1"/>
<text transform="translate(397.20 118.94) scale(0.92 1.0)" text-anchor="end" style="font-size:10px">1</text>
<path d="M403 87.1H405.2" stroke="#111" stroke-width="1.1"/>
<text transform="translate(397.20 91.03) scale(0.92 1.0)" text-anchor="end" style="font-size:10px">1.2</text>
<path d="M403 59.2H405.2" stroke="#111" stroke-width="1.1"/>
<text transform="translate(397.20 63.12) scale(0.92 1.0)" text-anchor="end" style="font-size:10px">1.4</text>
<path d="M403 31.3H405.2" stroke="#111" stroke-width="1.1"/>
<text transform="translate(397.20 35.21) scale(0.92 1.0)" text-anchor="end" style="font-size:10px">1.6</text>
<path d="M403 3.4H405.2" stroke="#111" stroke-width="1.1"/>
<text transform="translate(397.20 7.30) scale(0.92 1.0)" text-anchor="end" style="font-size:10px">1.8</text>
<path d="M405.20 254.6V258.0M440.11 254.6V258.0M475.02 254.6V258.0M509.94 254.6V258.0M544.85 254.6V258.0M579.76 254.6V258.0M614.67 254.6V258.0M649.59 254.6V258.0M684.50 254.6V258.0" stroke="#111" stroke-width="1.1"/>
<rect x="415.66" y="50.99" width="14.00" height="203.61" fill="url(#hp)" stroke="#222" stroke-width="1"/>
<text x="422.7" y="270.2" text-anchor="middle" class="t">1</text>
<rect x="450.57" y="20.29" width="14.00" height="234.31" fill="url(#hp)" stroke="#222" stroke-width="1"/>
<text x="457.6" y="270.2" text-anchor="middle" class="t">3</text>
<rect x="485.48" y="44.01" width="14.00" height="210.59" fill="url(#hp)" stroke="#222" stroke-width="1"/>
<text x="492.5" y="270.2" text-anchor="middle" class="t">4</text>
<rect x="520.39" y="78.62" width="14.00" height="175.98" fill="url(#hp)" stroke="#222" stroke-width="1"/>
<text x="527.4" y="270.2" text-anchor="middle" class="t">5</text>
<rect x="555.31" y="109.88" width="14.00" height="144.72" fill="url(#hp)" stroke="#222" stroke-width="1"/>
<text x="562.3" y="270.2" text-anchor="middle" class="t">6</text>
<rect x="590.22" y="149.65" width="14.00" height="104.95" fill="url(#hp)" stroke="#222" stroke-width="1"/>
<text x="597.2" y="270.2" text-anchor="middle" class="t">7</text>
<rect x="625.13" y="174.91" width="14.00" height="79.69" fill="url(#hp)" stroke="#222" stroke-width="1"/>
<text x="632.1" y="270.2" text-anchor="middle" class="t">8</text>
<rect x="660.04" y="173.38" width="14.00" height="81.22" fill="url(#hp)" stroke="#222" stroke-width="1"/>
<text x="667.0" y="270.2" text-anchor="middle" class="t">9</text>
<path d="M405.2 3.5V254.6" stroke="#111" stroke-width="1.3"/>
<path d="M402.7 254.6H684.5" stroke="#111" stroke-width="1.3"/>
<text transform="translate(379.60 122.60) rotate(-90)" text-anchor="middle" style="font-size:11.7px">Settlement (mm)</text>
<text transform="translate(544.70 285.60) scale(0.94 1.0)" text-anchor="middle" style="font-size:11px">Pile caps</text>
<text transform="translate(523.50 25.90)" style="font-size:16.2px;fill:#111">b)</text>
</svg>
</body></html>
